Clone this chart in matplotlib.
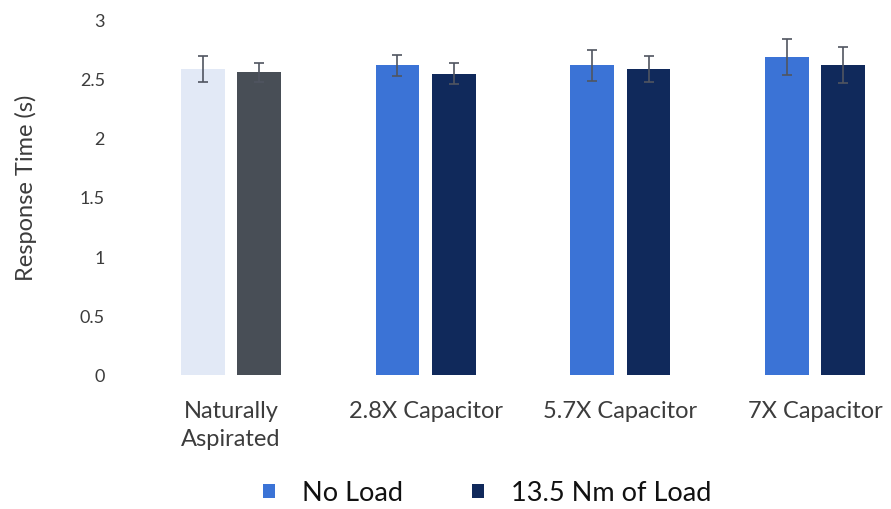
import matplotlib
matplotlib.use("Agg")
import matplotlib.pyplot as plt
import numpy as np
from matplotlib.patches import Patch

categories = ["Naturally\nAspirated", "2.8X Capacitor", "5.7X Capacitor", "7X Capacitor"]
no_load = [2.58, 2.61, 2.61, 2.68]
no_load_err = [0.11, 0.09, 0.13, 0.15]
with_load = [2.55, 2.54, 2.58, 2.61]
with_load_err = [0.08, 0.09, 0.11, 0.15]
series_names = ["No Load", "13.5 Nm of Load"]
yticks = [0, 0.5, 1, 1.5, 2, 2.5, 3]
ytick_labels = ["0", "0.5", "1", "1.5", "2", "2.5", "3"]

blue = "#3b73d6"
navy = "#10295b"
no_load_colors = ["#e2e9f6", blue, blue, blue]
with_load_colors = ["#484e56", navy, navy, navy]

plt.rcParams["font.family"] = ["Lato", "DejaVu Sans"]

fig = plt.figure(figsize=(8.91, 5.10), dpi=100)
ax = fig.add_axes([130 / 891, 134 / 510, (889 - 130) / 891, 356 / 510])

x = np.arange(len(categories))
w = 0.225
off = 0.145
ax.bar(x - off, no_load, w, color=no_load_colors, zorder=2)
ax.bar(x + off, with_load, w, color=with_load_colors, zorder=2)
err_kw = dict(fmt="none", ecolor="#505560", elinewidth=1.2, capsize=3.5, capthick=1.2, zorder=3)
ax.errorbar(x - off, no_load, yerr=no_load_err, **err_kw)
ax.errorbar(x + off, with_load, yerr=with_load_err, **err_kw)

ax.set_xlim(-0.519, 3.38)
ax.set_ylim(0, 3)
ax.set_yticks(yticks)
ax.set_yticklabels(ytick_labels)
ax.set_xticks(x)
ax.set_xticklabels(categories, va="top", ha="center", linespacing=1.4)
ax.tick_params(axis="y", length=0, pad=18, labelsize=13, labelcolor="#3c3c3c")
ax.tick_params(axis="x", length=0, pad=18, labelsize=17, labelcolor="#3c3c3c")
for s in ax.spines.values():
    s.set_visible(False)
ax.set_ylabel("Response Time (s)", fontsize=17, color="#3c3c3c")
ax.yaxis.set_label_coords(-0.122, 0.528)

handles = [Patch(facecolor=blue), Patch(facecolor=navy)]
fig.legend(handles, series_names, loc="center", bbox_to_anchor=(487 / 891, 1 - 494 / 510),
           ncol=2, frameon=False, fontsize=19.5, handlelength=0.45, handleheight=0.45,
           handletextpad=1.0, columnspacing=2.55, labelcolor="#111111")

fig.savefig("out.png", dpi=100, facecolor="white")
